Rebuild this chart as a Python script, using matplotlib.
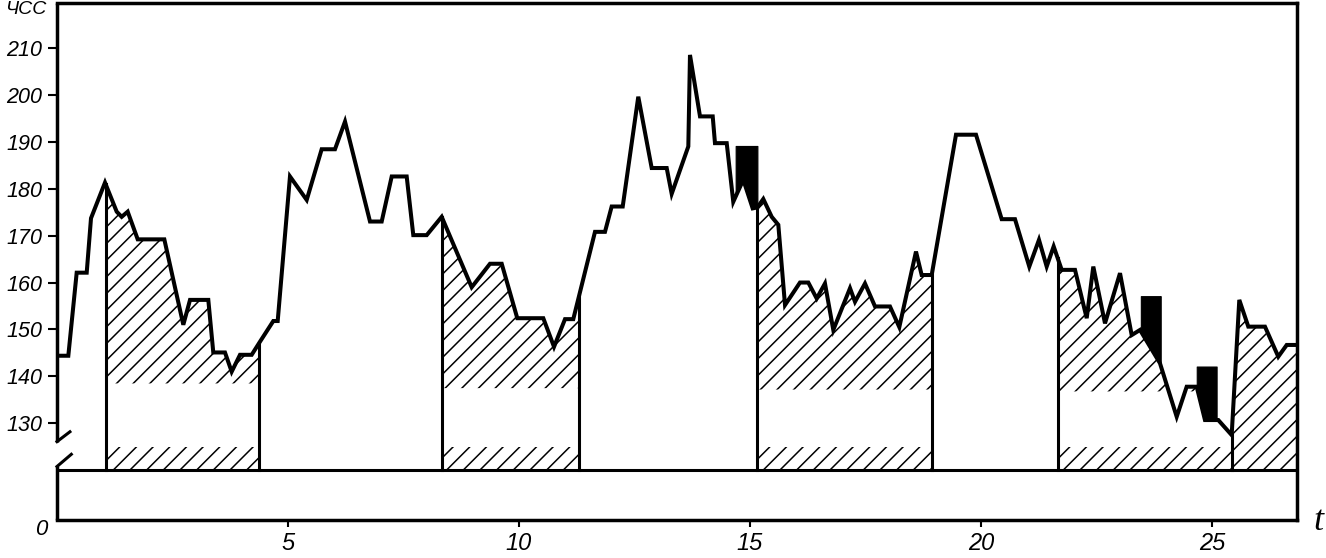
import matplotlib
matplotlib.use('Agg')
import matplotlib.pyplot as plt
import numpy as np

# heart rate (ЧСС) trace, vertices
t = [0.0, 0.245, 0.426, 0.643, 0.736, 1.039, 1.292, 1.400, 1.530, 1.747,
     2.323, 2.734, 2.879, 3.275, 3.383, 3.636, 3.781, 3.961, 4.214, 4.394,
     4.682, 4.777, 5.043, 5.405, 5.729, 6.017, 6.234, 6.775, 7.028, 7.245,
     7.569, 7.712, 8.002, 8.327, 8.976, 9.372, 9.626, 9.963, 10.526, 10.758,
     10.996, 11.175, 11.645, 11.861, 12.006, 12.245, 12.582, 12.872, 13.197, 13.305,
     13.665, 13.701, 13.918, 14.193, 14.242, 14.496, 14.638, 14.855, 15.058, 15.16,
     15.288, 15.470, 15.613, 15.758, 16.082, 16.262, 16.444, 16.623, 16.803, 17.165,
     17.273, 17.489, 17.706, 18.030, 18.232, 18.593, 18.716, 18.933, 19.459, 19.892,
     20.448, 20.736, 21.045, 21.255, 21.422, 21.573, 21.747, 22.035, 22.288, 22.431,
     22.684, 23.009, 23.262, 23.442, 23.874, 24.236, 24.452, 24.669, 24.848, 25.136,
     25.426, 25.591, 25.786, 26.147, 26.435, 26.617, 26.84]
hr = [144.4, 144.4, 162.1, 162.1, 173.7, 181.3, 175.1, 174.0, 175.1, 169.2,
      169.2, 151.0, 156.3, 156.3, 145.1, 145.1, 141.0, 144.6, 144.6, 147.4,
      151.8, 151.8, 182.6, 177.6, 188.4, 188.4, 194.3, 173.0, 173.0, 182.6,
      182.6, 170.1, 170.1, 174.0, 159.0, 164.0, 164.0, 152.4, 152.4, 146.3,
      152.2, 152.2, 170.8, 170.8, 176.2, 176.2, 199.6, 184.4, 184.4, 178.9,
      189.0, 208.5, 195.4, 195.4, 189.7, 189.7, 177.2, 181.9, 175.8, 176.0,
      177.8, 174.0, 172.3, 155.2, 160.0, 160.0, 156.6, 159.8, 149.9, 158.8,
      155.9, 159.8, 154.9, 154.9, 150.5, 166.6, 161.6, 161.6, 191.5, 191.5,
      173.5, 173.5, 163.4, 169.1, 163.4, 167.7, 162.7, 162.7, 152.4, 163.4,
      151.3, 162.0, 148.8, 149.9, 142.8, 131.4, 137.8, 137.8, 130.7, 130.7,
      127.5, 156.3, 150.6, 150.6, 144.2, 146.7, 146.7]

# hatched zones: start, end and lower edge of the upper hatching
zone_start = [1.054, 8.327, 15.16, 21.66]
zone_end = [4.372, 11.30, 18.95, 25.426]
zone_level = [138.5, 137.5, 137.2, 136.8]

# black blocks above the curve
block_start = [14.69, 23.46, 24.67]
block_end = [15.16, 23.89, 25.10]
block_top = [189.1, 157.1, 142.1]

yticks = [130, 140, 150, 160, 170, 180, 190, 200, 210]
xticks = [5, 10, 15, 20, 25]

# broken axis layout (upper part in bpm, lower strip down to 0)
y_base = 120.0
y_band = 125.0
y_zero = 109.4
y_top = 219.5
x_max = 26.84


def piece(a, b):
    ts = np.asarray(t)
    inside = (ts > a) & (ts < b)
    xs = np.concatenate([[a], ts[inside], [b]])
    return xs, np.interp(xs, ts, hr)


plt.rcParams['font.family'] = ['Liberation Sans', 'DejaVu Sans']
plt.rcParams['font.style'] = 'italic'
plt.rcParams['hatch.linewidth'] = 1.1

W, H = 1326, 558
fig = plt.figure(figsize=(W / 100, H / 100), dpi=100)
ax = fig.add_axes([57 / W, 1 - 520 / H, (1297 - 57) / W, (520 - 3.3) / H])
ax.set_xlim(0, x_max)
ax.set_ylim(y_zero, y_top)

hatch_kw = dict(facecolor='none', edgecolor='black', hatch='//', linewidth=0)

for a, b, lev in zip(zone_start, zone_end, zone_level):
    xs, ys = piece(a, b)
    ax.fill_between(xs, lev, ys, where=ys > lev, interpolate=True, **hatch_kw)
    ax.fill_between([a, b], y_base, y_band, **hatch_kw)
    for xv in (a, b):
        ax.plot([xv, xv], [y_base, np.interp(xv, t, hr)], color='black', lw=2.2)

# last stretch hatched all the way down
xs, ys = piece(zone_end[-1], x_max)
ax.fill_between(xs, y_base, ys, **hatch_kw)

for a, b, top in zip(block_start, block_end, block_top):
    xs, ys = piece(a, b)
    ax.fill_between(xs, ys, top, color='black', linewidth=0.8)

ax.plot(t, hr, color='black', lw=2.9, solid_joinstyle='miter')
ax.axhline(y_base, color='black', lw=2.2)

# spines, left one with a break
for s in ['top', 'right', 'bottom']:
    ax.spines[s].set_linewidth(2.5)
ax.spines['left'].set_visible(False)
lk = dict(color='black', lw=2.5, clip_on=False, solid_capstyle='butt')
ax.plot([0, 0], [126.1, y_top], **lk)
ax.plot([0, 0.28], [126.1, 128.2], color='black', lw=2.2, clip_on=False)
ax.plot([0, 0], [y_zero, 120.8], **lk)
ax.plot([0, 0.31], [120.8, 123.4], color='black', lw=2.2, clip_on=False)

ax.set_yticks(yticks)
ax.set_yticklabels([str(v) for v in yticks], fontsize=15.5)
ax.set_xticks(xticks)
ax.set_xticklabels([str(v) for v in xticks], fontsize=17)
ax.tick_params(axis='y', direction='out', length=6.5, width=1.5, pad=4)
ax.tick_params(axis='x', direction='out', length=5, width=1.5, pad=4)

fig.text(41 / W, 1 - 529.5 / H, '0', ha='center', va='center', fontsize=16)
fig.text(1318 / W, 1 - 522 / H, 't', ha='center', va='center', fontsize=26,
         family='Liberation Serif')
fig.text(26 / W, 1 - 9 / H, 'ЧСС', ha='center', va='center', fontsize=14)

fig.savefig('out.png', dpi=100)
